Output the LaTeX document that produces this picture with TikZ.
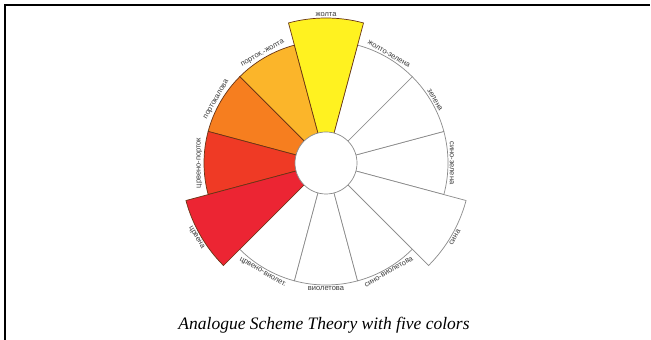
\documentclass[tikz,border=0pt]{standalone}
\usepackage{fontspec}
\setmainfont{Liberation Serif}
\newfontfamily\lblfont{Liberation Sans}
\usetikzlibrary{calc}
\definecolor{cYel}{HTML}{FFF220}
\definecolor{cYO}{HTML}{FBB52A}
\definecolor{cOr}{HTML}{F67E1F}
\definecolor{cRO}{HTML}{EF3A25}
\definecolor{cRed}{HTML}{EC2533}
\definecolor{edgeDark}{HTML}{6A3414}
\definecolor{edgeGray}{HTML}{8A8A8A}
\definecolor{lblGray}{HTML}{3A3A3A}
\newcommand\cwsector[4]{\filldraw[fill=#3,draw=#4,line width=0.7pt,line join=miter] (C) -- ++(#1-15:#2) arc[start angle=#1-15,end angle=#1+15,radius=#2] -- cycle;}
\tikzset{
  lbl/.style={font=\lblfont\fontsize{7.5}{8}\selectfont, text=lblGray, inner sep=0.5pt},
  capt/.style={font=\itshape\fontsize{17.5}{20}\selectfont, inner sep=0pt}
}
\begin{document}
\begin{tikzpicture}[x=1pt,y=1pt]
\useasboundingbox (0,0) rectangle (651,340);
\fill[white] (0,0) rectangle (651,340);
\coordinate (C) at (326,177);
\draw[line width=2pt] (5,0) -- (5,335) -- (650,335);
% white wedges
\cwsector{0}{122}{white}{edgeGray}
\cwsector{30}{122}{white}{edgeGray}
\cwsector{60}{122}{white}{edgeGray}
\cwsector{240}{122}{white}{edgeGray}
\cwsector{270}{122}{white}{edgeGray}
\cwsector{300}{122}{white}{edgeGray}
\cwsector{330}{145}{white}{edgeGray}
% coloured wedges
\cwsector{120}{122}{cYO}{edgeDark}
\cwsector{150}{122}{cOr}{edgeDark}
\cwsector{180}{122}{cRO}{edgeDark}
\cwsector{90}{145}{cYel}{edgeDark}
\cwsector{210}{145}{cRed}{edgeDark}
% inner circle
\node[circle, draw=edgeGray, fill=white, line width=0.7pt, minimum size=62pt, inner sep=0pt] (hub) at (C) {};
% labels (upper half)
\node[lbl, rotate=-90, anchor=south] (l0) at ($(C)+(0:123)$) {сино-зелена};
\node[lbl, rotate=-60, anchor=south] (l30) at ($(C)+(30:123)$) {зелена};
\node[lbl, rotate=-30, anchor=south] (l60) at ($(C)+(60:123)$) {жолто-зелена};
\node[lbl, rotate=0, anchor=south] (l90) at ($(C)+(90:146)$) {жолта};
\node[lbl, rotate=30, anchor=south] (l120) at ($(C)+(120:123)$) {порток.-жолта};
\node[lbl, rotate=60, anchor=south] (l150) at ($(C)+(150:123)$) {портокалова};
\node[lbl, rotate=90, anchor=south] (l180) at ($(C)+(180:123)$) {црвено-порток};
% labels (lower half)
\node[lbl, rotate=300, anchor=north] (l210) at ($(C)+(210:146)$) {црвена};
\node[lbl, rotate=330, anchor=north] (l240) at ($(C)+(240:123)$) {црвено-виолет.};
\node[lbl, rotate=0, anchor=north] (l270) at ($(C)+(270:123)$) {виолетова};
\node[lbl, rotate=30, anchor=north] (l300) at ($(C)+(300:123)$) {сино-виолетова};
\node[lbl, rotate=60, anchor=north] (l330) at ($(C)+(330:146)$) {сина};
% caption
\node[capt, anchor=base] (cap) at (324,10) {Analogue Scheme Theory with five colors};
\end{tikzpicture}
\end{document}
